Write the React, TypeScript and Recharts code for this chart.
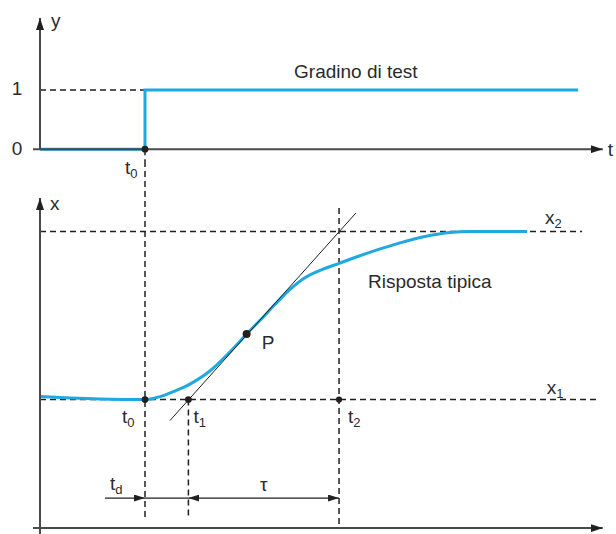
import { LineChart, Line, XAxis, YAxis, ReferenceLine, ReferenceDot } from 'recharts'

const BLUE = '#1ea9e1'
const INK = '#231f20'
const AXIS = '#4a4a4a'
const TEXT = '#2b2b2b'
const FONT = '"Liberation Sans", Arial, sans-serif'

// instants on the time axis and the two response levels
const T0 = 18.75
const T1 = 26.5
const T2 = 53.4
const X1 = 0
const X2 = 1

// test step (top)
const stepT = [0, T0, T0, 96.1]
const stepY = [0, 0, 1, 1]

// typical response (bottom)
const respT = [0, 5.4, 10.7, 18.75, 20.5, 22.3, 24.1, 25.9, 27.7, 29.5, 31.25, 33, 34.8, 36.9, 39.3, 42, 44.6, 47.3, 50, 53.4, 56.6, 60.2, 64.3, 68.75, 73.2, 76.8, 87]
const respX = [0.018, 0.009, 0.003, 0, 0.009, 0.027, 0.051, 0.077, 0.11, 0.149, 0.196, 0.253, 0.315, 0.39, 0.472, 0.567, 0.654, 0.725, 0.769, 0.811, 0.85, 0.891, 0.933, 0.971, 0.995, 1, 1]

// inflection tangent through P
const tanT = [23.2, 56.4]
const tanX = [-0.125, 1.11]
const P = { t: 36.9, v: 0.39 }

const TIME_DOMAIN = [-1.25, 100]
const TOP_DOMAIN = [-0.2, 2.22]
const BOT_DOMAIN = [-0.8, 1.42]

const zip = (ts: number[], vs: number[]) => ts.map((t, i) => ({ t, v: vs[i] }))
const seg = (a: number[], b: number[]) => [{ t: a[0], v: a[1] }, { t: b[0], v: b[1] }]

const topGuides = [seg([0, 1], [T0, 1]), seg([T0, 0], [T0, -0.2])]
const botGuides = [
  seg([0, X2], [96.8, X2]),
  seg([0, X1], [99.5, X1]),
  seg([T0, 1.42], [T0, -0.71]),
  seg([T1, X1], [T1, -0.71]),
  seg([T2, 1.14], [T2, -0.75]),
]

const DIM_Y = -0.586

type Note = { t: number; v: number; text: string; sub?: string; dx?: number; dy?: number; mid?: boolean }

const topNotes: Note[] = [
  { t: 0, v: 2.22, text: 'y', dx: 11, dy: 9 },
  { t: 0, v: 1, text: '1', dx: -23, dy: 5, mid: true },
  { t: 0, v: 0, text: '0', dx: -23, dy: 6, mid: true },
  { t: 100.5, v: 0, text: 't', dx: 5, dy: 7 },
  { t: T0, v: 0, text: 't', sub: '0', dx: -20, dy: 25 },
  { t: 56.4, v: 1, text: 'Gradino di test', dy: -12, mid: true },
]

const botNotes: Note[] = [
  { t: 0, v: 1.2, text: 'x', dx: 10, dy: 12 },
  { t: 90.2, v: X2, text: 'x', sub: '2', dy: -8 },
  { t: 90.5, v: X1, text: 'x', sub: '1', dy: -6 },
  { t: T0, v: X1, text: 't', sub: '0', dx: -23, dy: 23 },
  { t: T1, v: X1, text: 't', sub: '1', dx: 5, dy: 23 },
  { t: T2, v: X1, text: 't', sub: '2', dx: 9, dy: 23 },
  { t: P.t, v: P.v, text: 'P', dx: 15, dy: 15 },
  { t: 69.6, v: 0.667, text: 'Risposta tipica', mid: true },
  { t: 11.6, v: DIM_Y, text: 't', sub: 'd', dx: 5, dy: -8 },
  { t: (T1 + T2) / 2, v: DIM_Y, text: 'τ', dy: -7, mid: true },
]

const arrow = (w: number, start: boolean, end: boolean, head: string) => (p: any) => (
  <line
    x1={p.x1}
    y1={p.y1}
    x2={p.x2}
    y2={p.y2}
    stroke={w > 1.5 ? AXIS : INK}
    strokeWidth={w}
    markerStart={start ? `url(#${head})` : undefined}
    markerEnd={end ? `url(#${head})` : undefined}
  />
)

const noteShape = (n: Note) => (p: any) => (
  <text
    x={p.cx + (n.dx || 0)}
    y={p.cy + (n.dy || 0)}
    textAnchor={n.mid ? 'middle' : 'start'}
    fontFamily={FONT}
    fontSize={19}
    fill={TEXT}
  >
    {n.text}
    {n.sub && (
      <tspan fontSize={13} dy={4}>
        {n.sub}
      </tspan>
    )}
  </text>
)

const renderNotes = (notes: Note[]) =>
  notes.map((n, i) => (
    <ReferenceDot key={`n${i}`} x={n.t} y={n.v} r={0} ifOverflow="visible" shape={noteShape(n)} />
  ))

const renderGuides = (guides: { t: number; v: number }[][]) =>
  guides.map((g, i) => (
    <Line
      key={`g${i}`}
      data={g}
      dataKey="v"
      type="linear"
      stroke={INK}
      strokeWidth={1.5}
      strokeDasharray="6 4"
      dot={false}
      activeDot={false}
      isAnimationActive={false}
    />
  ))

const dot = (t: number, v: number, r: number, key: string) => (
  <ReferenceDot key={key} x={t} y={v} r={r} fill={INK} stroke="none" ifOverflow="visible" />
)

export default function App() {
  return (
    <div style={{ position: 'absolute', left: 0, top: 0, width: 616, height: 534, background: '#fff' }}>
      <svg width={0} height={0} style={{ position: 'absolute' }}>
        <defs>
          <marker id="axisHead" viewBox="0 0 12 8" refX={12} refY={4} markerWidth={12} markerHeight={8} markerUnits="userSpaceOnUse" orient="auto-start-reverse">
            <path d="M0,0 L12,4 L0,8 z" fill={INK} />
          </marker>
          <marker id="dimHead" viewBox="0 0 11 7" refX={11} refY={3.5} markerWidth={11} markerHeight={7} markerUnits="userSpaceOnUse" orient="auto-start-reverse">
            <path d="M0,0 L11,3.5 L0,7 z" fill={INK} />
          </marker>
        </defs>
      </svg>

      <div style={{ position: 'absolute', left: 0, top: 161 }}>
        <LineChart width={616} height={373} margin={{ top: 0, right: 16, bottom: 0, left: 33 }}>
          <XAxis type="number" dataKey="t" domain={TIME_DOMAIN} allowDataOverflow hide />
          <YAxis type="number" domain={BOT_DOMAIN} allowDataOverflow hide />
          {renderGuides(botGuides)}
          <Line
            data={zip(respT, respX)}
            dataKey="v"
            type="monotone"
            stroke={BLUE}
            strokeWidth={3}
            dot={false}
            activeDot={false}
            isAnimationActive={false}
          />
          <Line
            data={zip(tanT, tanX)}
            dataKey="v"
            type="linear"
            stroke={INK}
            strokeWidth={1}
            dot={false}
            activeDot={false}
            isAnimationActive={false}
          />
          <ReferenceLine segment={[{ x: 0, y: -0.8 }, { x: 0, y: 1.2 }]} ifOverflow="visible" shape={arrow(2, false, true, 'axisHead')} />
          <ReferenceLine segment={[{ x: -1.25, y: -0.765 }, { x: 100.5, y: -0.765 }]} ifOverflow="visible" shape={arrow(2, false, true, 'axisHead')} />
          <ReferenceLine segment={[{ x: 11.6, y: DIM_Y }, { x: T0, y: DIM_Y }]} ifOverflow="visible" shape={arrow(1.2, false, true, 'dimHead')} />
          <ReferenceLine segment={[{ x: T0, y: DIM_Y }, { x: T1, y: DIM_Y }]} ifOverflow="visible" shape={arrow(1.2, false, false, 'dimHead')} />
          <ReferenceLine segment={[{ x: T1, y: DIM_Y }, { x: T2, y: DIM_Y }]} ifOverflow="visible" shape={arrow(1.2, true, true, 'dimHead')} />
          {dot(T0, X1, 3.4, 'b0')}
          {dot(T1, X1, 3.4, 'b1')}
          {dot(T2, X1, 3.1, 'b2')}
          {dot(P.t, P.v, 4, 'bp')}
          {renderNotes(botNotes)}
        </LineChart>
      </div>

      <div style={{ position: 'absolute', left: 0, top: 0 }}>
        <LineChart width={616} height={190} margin={{ top: 18, right: 16, bottom: 29, left: 33 }}>
          <XAxis type="number" dataKey="t" domain={TIME_DOMAIN} allowDataOverflow hide />
          <YAxis type="number" domain={TOP_DOMAIN} allowDataOverflow hide />
          {renderGuides(topGuides)}
          <Line
            data={zip(stepT, stepY)}
            dataKey="v"
            type="linear"
            stroke={BLUE}
            strokeWidth={3}
            dot={false}
            activeDot={false}
            isAnimationActive={false}
          />
          <ReferenceLine segment={[{ x: 0, y: 0 }, { x: 0, y: 2.22 }]} ifOverflow="visible" shape={arrow(2, false, true, 'axisHead')} />
          <ReferenceLine segment={[{ x: -1.25, y: 0 }, { x: 100.5, y: 0 }]} ifOverflow="visible" shape={arrow(2, false, true, 'axisHead')} />
          {dot(T0, 0, 3.4, 'd0')}
          {renderNotes(topNotes)}
        </LineChart>
      </div>
    </div>
  )
}
